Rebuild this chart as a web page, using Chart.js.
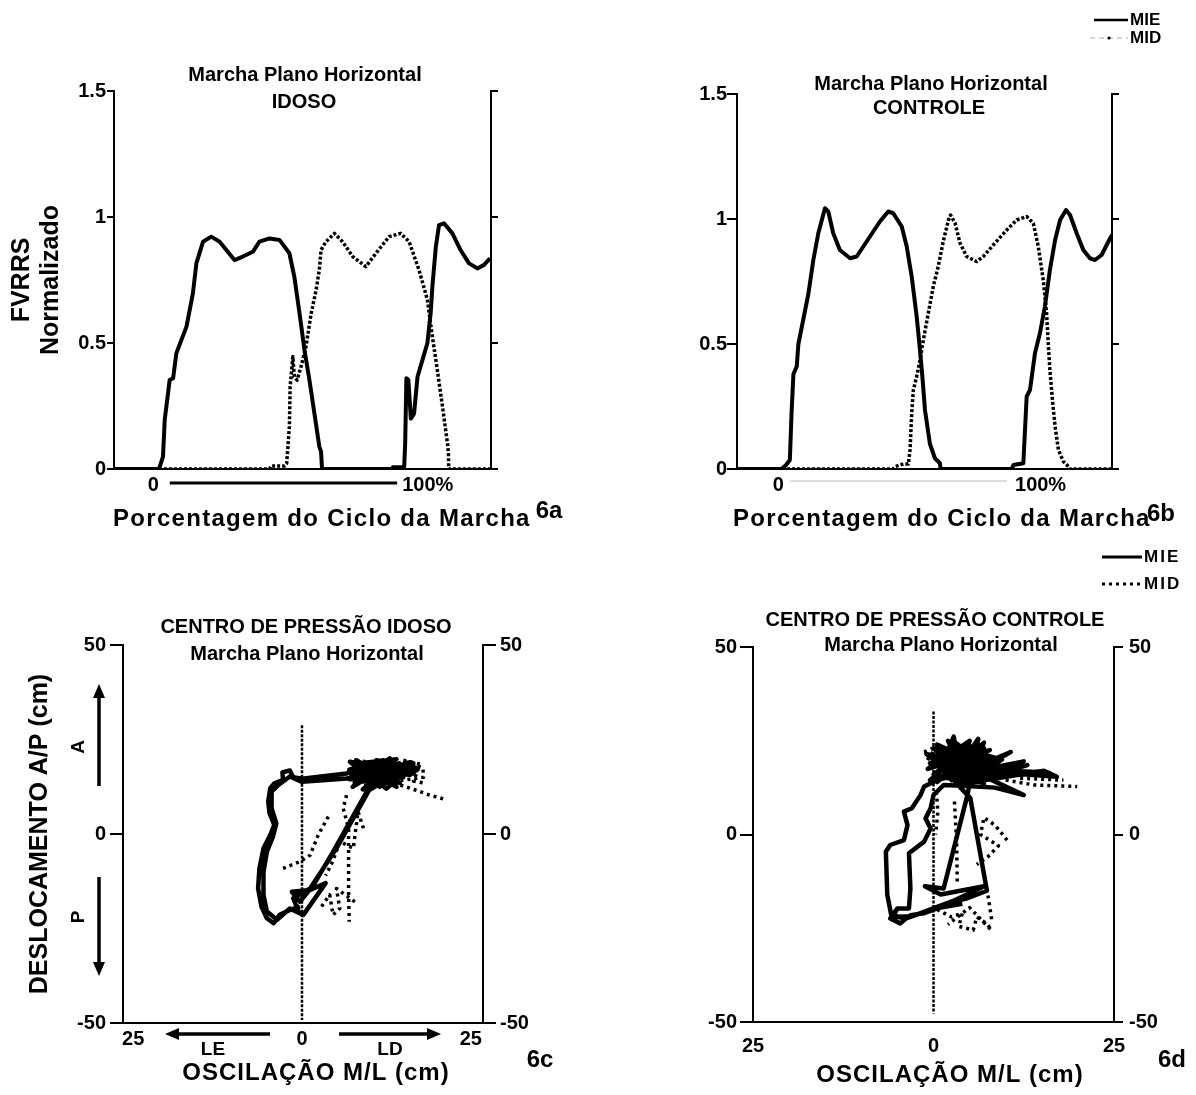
<!DOCTYPE html>
<html><head><meta charset="utf-8">
<script src="https://cdn.jsdelivr.net/npm/chart.js@4.4.0/dist/chart.umd.min.js"></script>
<style>
html,body{margin:0;padding:0;background:#fff;}
#wrap{position:relative;width:1196px;height:1095px;overflow:hidden;background:#fff;}
canvas{position:absolute;}
</style></head><body>
<div id="wrap">
<canvas id="cA" width="598" height="540" style="left:0px;top:0px"></canvas>
<canvas id="cB" width="598" height="540" style="left:598px;top:0px"></canvas>
<canvas id="cC" width="598" height="555" style="left:0px;top:540px"></canvas>
<canvas id="cD" width="598" height="555" style="left:598px;top:540px"></canvas>
</div>
<script>
// ---------- DATA ----------
const seriesNames = ['MIE', 'MID'];
// 6a  FVRRS normalizado x % do ciclo (IDOSO)
const idosoMIE = [[-18.1,0],[0.1,0],[1.7,0.049],[2.4,0.194],[4.4,0.353],[5.8,0.36],[7.1,0.459],[11.2,0.565],[13.8,0.697],[15.2,0.816],[17.9,0.902],[21.2,0.922],[24.6,0.902],[30.6,0.829],[34.0,0.843],[38.0,0.862],[40.7,0.902],[44.8,0.915],[48.8,0.909],[52.8,0.856],[54.8,0.763],[56.9,0.618],[58.9,0.472],[60.9,0.353],[62.9,0.221],[64.9,0.089],[65.6,0.069],[66.0,0],[94.5,0],[94.6,0.007],[99.2,0.007],[99.6,0.10],[100.1,0.36],[100.9,0.353],[101.9,0.20],[103.2,0.22],[104.6,0.366],[106.6,0.433],[108.6,0.50],[109.9,0.618],[110.6,0.724],[112.0,0.882],[113.3,0.968],[115.3,0.975],[118.7,0.935],[122.0,0.869],[125.4,0.816],[128.8,0.796],[131.5,0.81],[133.9,0.836]];
const idosoMID = [[-18.1,0],[44.8,0],[45.4,0.012],[50.8,0.012],[51.7,0.022],[52.8,0.168],[53.1,0.327],[54.2,0.446],[54.8,0.366],[55.9,0.353],[57.5,0.406],[59.5,0.485],[61.6,0.618],[63.6,0.71],[64.9,0.79],[65.6,0.869],[67.6,0.902],[71.0,0.935],[74.3,0.902],[78.4,0.843],[83.7,0.803],[87.8,0.856],[93.1,0.922],[97.8,0.935],[101.2,0.902],[105.2,0.79],[108.6,0.671],[110.6,0.525],[112.6,0.393],[114.7,0.247],[116.7,0.102],[117.1,0.062],[117.2,0],[134.3,0]];
// 6b  (CONTROLE)
const controleMIE = [[-21.5,0],[-2.7,0],[-0.8,0.016],[0.8,0.036],[1.5,0.22],[2.3,0.38],[3.7,0.41],[4.4,0.50],[6.5,0.60],[8.6,0.70],[10.7,0.836],[12.8,0.943],[15.6,1.043],[17.0,1.03],[19.1,0.943],[21.9,0.876],[26.2,0.843],[29.0,0.85],[33.2,0.91],[38.8,0.99],[42.3,1.03],[44.4,1.023],[48.0,0.97],[50.1,0.89],[52.2,0.77],[54.3,0.61],[55.7,0.476],[56.7,0.37],[57.8,0.236],[59.9,0.10],[62.0,0.043],[64.1,0.023],[64.4,0],[94.4,0],[95.1,0.016],[99.3,0.023],[100.7,0.29],[102.1,0.316],[104.2,0.463],[106.3,0.543],[108.4,0.65],[110.5,0.796],[112.7,0.916],[114.8,0.996],[117.3,1.036],[119.0,1.016],[121.8,0.943],[124.6,0.876],[127.4,0.843],[129.5,0.836],[132.3,0.856],[135.2,0.91],[136.7,0.936]];
const controleMID = [[-21.5,0],[44.4,0],[45.2,0.01],[48.7,0.02],[50.8,0.02],[51.5,0.076],[52.2,0.22],[52.9,0.316],[54.3,0.37],[55.7,0.436],[57.1,0.516],[59.2,0.623],[61.3,0.73],[63.4,0.81],[65.5,0.91],[67.7,0.996],[68.6,1.016],[70.5,0.983],[72.6,0.903],[75.4,0.85],[79.6,0.83],[82.4,0.85],[86.6,0.896],[92.3,0.956],[96.5,0.996],[100.7,1.01],[103.5,0.983],[105.6,0.89],[107.7,0.756],[109.1,0.623],[109.8,0.503],[110.5,0.396],[111.7,0.263],[112.7,0.17],[114.1,0.076],[116.2,0.03],[118.3,0.01],[118.7,0],[136.7,0]];
// 6c  centro de pressão (M/L cm, A/P cm) IDOSO
const copIdosoMIE = [[-0.3,-19.2],[-1.8,-20.1],[-3.3,-21.4],[-4.2,-23.6],[-5.2,-22.3],[-6.0,-19.2],[-6.5,-14.4],[-6.3,-9.1],[-5.7,-3.8],[-4.7,-0.3],[-4.1,2.4],[-4.8,5.5],[-5.0,8.6],[-4.7,12.1],[-4.1,13.4],[-2.8,14.3],[-2.9,16.3],[-1.8,16.8],[-1.3,15.0],[0.0,14.6],[6.6,16.0],[8.1,17.4],[12.0,17.8],[16.5,18.7],[10.6,13.8],[7.1,19.1],[14.5,16.5],[9.6,11.2],[4.6,-4.7],[1.7,-13.5],[-0.3,-17.9],[-1.5,-15.3],[1.2,-14.8],[3.5,-13.0],[0.2,-21.4],[-1.8,-19.7],[-3.7,-22.7],[-5.2,-20.5],[-5.7,-16.1],[-5.7,-10.0],[-5.2,-4.7],[-4.3,-0.7],[-3.8,2.8],[-4.5,6.8],[-4.5,11.2],[-3.5,13.0],[-1.8,15.2],[0.0,13.8],[6.6,14.7],[9.6,15.6],[13.5,17.4],[16.0,15.6],[8.6,18.3],[12.5,15.2],[17.0,16.9],[10.1,12.1],[11.0,19.5],[15.5,18.0],[8.0,14.0],[13.0,13.5],[7.0,17.0],[12.0,19.5],[8.0,15.0],[15.5,18.5],[9.5,13.0],[14.0,19.8],[7.5,18.5],[13.0,14.0],[10.0,19.0],[16.5,16.0],[8.5,16.5],[11.5,12.5],[12.5,18.0],[7.0,14.5],[15.0,15.0],[9.0,18.0],[13.5,16.5],[10.5,14.5],[16.0,19.0],[11.0,16.0],[8.0,19.5],[14.5,13.5],[9.5,17.0],[12.0,15.5],[17.0,17.5],[10.0,16.0],[7.5,12.5],[13.5,19.0],[9.0,11.8],[15.8,17.0],[7.2,16.0],[11.0,18.5],[14.0,12.5],[8.0,17.8],[12.5,12.0],[16.5,18.0],[9.8,14.0],[13.0,20.0],[7.8,13.5],[15.0,16.5],[10.1,12.1],[5.1,-3.8],[1.2,-14.4],[-1.3,-17.0],[-0.5,-20.5]];
const copIdosoMID = [[6.6,10.3],[6.1,6.8],[6.9,1.5],[6.9,-7.3],[6.9,-16.1],[7.0,-23.2],[0,null],[3.9,4.6],[2.4,-0.3],[1.2,-5.6],[-0.3,-7.3],[-2.8,-9.1],[0,null],[2.9,-19.2],[4.1,-16.1],[4.6,-21.4],[5.6,-19.7],[5.1,-14.4],[8.1,-18.3],[0,null],[9.1,1.5],[8.3,5.9],[7.6,-3.8],[5.6,-2.0],[4.6,-7.0],[3.5,-11.0],[0,null],[9.6,15.6],[14.5,13.0],[17.5,11.2],[18.9,10.3],[20.9,9.3],[0,null],[8.0,19.5],[12.0,18.5],[16.0,19.0],[17.9,17.4],[18.0,15.0],[14.0,14.0],[10.0,12.5],[0,null],[15.0,19.5],[17.5,18.5],[16.5,14.0],[18.0,13.5]];
const copIdosoEixo = [[0,28.8],[0,-49.2]];
// 6d  CONTROLE
const copControleMIE = [[-5.0,-19.7],[-6.0,-22.4],[-4.6,-23.7],[-3.2,-21.5],[-1.3,-21.0],[0.5,-19.7],[2.8,-17.9],[4.7,-17.0],[7.4,-15.0],[5.1,9.7],[3.0,14.0],[6.0,20.0],[1.0,18.0],[2.8,26.1],[3.5,19.0],[7.0,24.5],[5.0,16.0],[0.0,21.0],[4.0,22.5],[8.0,18.5],[2.0,15.0],[10.7,22.0],[6.0,17.0],[12.5,19.5],[4.0,13.5],[15.3,17.0],[17.1,15.4],[9.0,16.5],[1.5,19.5],[4.8,21.0],[0.0,16.0],[5.0,23.5],[1.5,20.0],[7.5,21.0],[2.5,14.5],[6.0,24.0],[-0.5,19.0],[4.5,17.0],[3.0,24.5],[8.0,17.5],[1.0,22.5],[5.5,14.5],[2.0,18.0],[7.0,23.0],[0.5,14.0],[4.0,20.5],[6.5,16.0],[2.5,23.0],[5.0,18.5],[-1.0,21.5],[3.5,15.0],[7.5,19.5],[1.5,16.5],[6.0,21.5],[3.0,19.5],[9.5,20.0],[4.5,13.5],[13.0,18.5],[6.0,15.0],[16.0,16.5],[11.0,17.0],[5.0,20.0],[0.5,24.0],[6.5,14.0],[1.0,15.5],[7.8,22.5],[-0.8,17.5],[5.0,25.0],[3.5,13.5],[8.0,15.5],[0.0,23.0],[4.5,15.5],[2.0,25.0],[6.8,18.0],[-0.5,14.5],[3.8,21.5],[7.0,13.5],[1.8,21.0],[5.8,17.5],[2.8,16.0],[6.2,25.5],[4.7,10.5],[1.4,-14.4],[-1.2,-13.8],[1.0,-16.0],[7.0,-13.8],[3.0,-17.5],[-0.5,-20.0],[-3.0,-21.8],[-5.8,-22.0],[-6.4,-16.1],[-6.6,-4.6],[-6.0,-2.8],[-4.1,-1.5],[-3.6,2.5],[-4.1,6.1],[-3.0,7.0],[-1.8,10.5],[-1.3,12.8],[0.5,14.5],[3.3,15.9],[6.0,19.0],[2.0,23.0],[5.5,22.0],[8.5,20.5],[3.0,17.5],[11.0,18.0],[7.0,15.5],[12.5,10.5],[8.5,12.5],[4.0,13.0],[1.4,13.2],[0.0,10.5],[-0.4,7.0],[-1.1,4.3],[-0.4,1.6],[-1.3,-1.9],[-3.4,-5.0],[-3.2,-14.4],[-3.4,-19.7],[-5.0,-19.7],[-5.5,-21.5],[-4.0,-22.5],[-1.0,-20.5],[1.0,-19.5],[4.0,-18.5]];
const copControleMID = [[0.4,11.4],[0.6,6.0],[0.3,0.0],[0,null],[2.9,8.8],[3.2,-2.0],[3.3,-13.5],[0,null],[10.2,-1.5],[8.5,2.5],[7.0,4.5],[6.5,0.0],[9.0,-3.0],[7.5,-6.0],[6.0,-8.0],[0,null],[0.5,-20.0],[2.5,-22.0],[4.0,-21.0],[3.5,-24.5],[5.5,-25.5],[6.0,-22.0],[7.5,-24.0],[8.0,-25.5],[5.0,-19.5],[2.0,-24.0],[0,null],[7.4,-14.4],[8.1,-23.2],[0,null],[10.0,14.5],[14.0,13.2],[19.9,12.8],[0,null],[12.0,15.0],[18.0,14.5],[0,null],[-1.3,22.0],[0.5,23.5],[-1.0,19.5],[1.5,18.0]];
const copControleEixo = [[0,32.8],[0,-47.7]];
// ticks / labels
const fvTickValues = [0, 0.5, 1, 1.5];
const fvTickLabels = ['0', '0.5', '1', '1.5'];
const cycleLabels = ['0', '100%'];
const apTickValues = [-50, 0, 50];
const apTickLabels = ['-50', '0', '50'];
const mlTickValues = [-25, 0, 25];
const mlTickLabels = ['25', '0', '25'];
const titlesA = ['Marcha Plano Horizontal', 'IDOSO'];
const titlesB = ['Marcha Plano Horizontal', 'CONTROLE'];
const titlesC = ['CENTRO DE PRESSÃO IDOSO', 'Marcha Plano Horizontal'];
const titlesD = ['CENTRO DE PRESSÃO CONTROLE', 'Marcha Plano Horizontal'];
const xTitleGait = 'Porcentagem do Ciclo da Marcha';
const yTitleGait = ['FVRRS', 'Normalizado'];
const xTitleCop = 'OSCILAÇÃO M/L (cm)';
const yTitleCop = 'DESLOCAMENTO A/P (cm)';
const dirLabels = ['LE', 'LD', 'A', 'P'];
const panelLabels = ['6a', '6b', '6c', '6d'];

// ---------- DRAWING ----------
const FAM = "'Liberation Sans', Arial, Helvetica, sans-serif";
const F = s => `bold ${s}px ${FAM}`;
Chart.defaults.font.family = FAM;
Chart.defaults.color = '#000';
const pts = a => a.map(([x, y]) => ({x, y}));

const decor = {
  id: 'decor',
  afterDraw(chart, args, o) {
    const ctx = chart.ctx, ca = chart.chartArea;
    ctx.save();
    ctx.fillStyle = '#000'; ctx.strokeStyle = '#000';
    (o.texts || []).forEach(t => {
      ctx.save();
      ctx.font = t.font; ctx.textAlign = t.align || 'center'; ctx.textBaseline = 'middle';
      if (t.spacing) ctx.letterSpacing = t.spacing + 'px';
      ctx.translate(ca.left + t.dx, ca.top + t.dy);
      if (t.rot) ctx.rotate(t.rot);
      ctx.fillText(t.text, 0, 0);
      ctx.restore();
    });
    (o.arrows || []).forEach(a => {
      const x1 = ca.left + a.x1, y1 = ca.top + a.y1, x2 = ca.left + a.x2, y2 = ca.top + a.y2;
      const ang = Math.atan2(y2 - y1, x2 - x1), hl = 14, hw = 6;
      const bx = x2 - hl * Math.cos(ang), by = y2 - hl * Math.sin(ang);
      ctx.lineWidth = 3.5;
      ctx.beginPath(); ctx.moveTo(x1, y1); ctx.lineTo(bx, by); ctx.stroke();
      ctx.beginPath(); ctx.moveTo(x2, y2);
      ctx.lineTo(bx + hw * Math.sin(ang), by - hw * Math.cos(ang));
      ctx.lineTo(bx - hw * Math.sin(ang), by + hw * Math.cos(ang));
      ctx.closePath(); ctx.fill();
    });
    if (o.cycle) {
      const c = o.cycle, xs = chart.scales.x;
      const p0 = xs.getPixelForValue(c.from), p1 = xs.getPixelForValue(c.to);
      ctx.font = c.font; ctx.textBaseline = 'middle';
      ctx.textAlign = 'right'; ctx.fillText(c.labels[0], p0 + c.dx0, ca.bottom + c.dy);
      ctx.textAlign = 'left'; ctx.fillText(c.labels[1], p1 + c.dx1, ca.bottom + c.dy);
      ctx.strokeStyle = c.color; ctx.lineWidth = c.width;
      ctx.beginPath(); ctx.moveTo(p0 + c.bar0, ca.bottom + c.barDy); ctx.lineTo(p1 + c.bar1, ca.bottom + c.barDy); ctx.stroke();
      ctx.strokeStyle = '#000';
    }
    (o.legend || []).forEach(l => {
      const x = ca.left + l.dx, y = ca.top + l.dy;
      ctx.save();
      ctx.strokeStyle = l.color; ctx.lineWidth = l.width; ctx.setLineDash(l.dash || []);
      ctx.beginPath(); ctx.moveTo(x, y); ctx.lineTo(x + l.len, y); ctx.stroke();
      ctx.setLineDash([]);
      if (l.dot) { ctx.fillStyle = '#000'; ctx.beginPath(); ctx.arc(x + l.len / 2, y, 1.6, 0, Math.PI * 2); ctx.fill(); }
      ctx.fillStyle = '#000'; ctx.font = l.font; ctx.textAlign = 'left'; ctx.textBaseline = 'middle';
      if (l.spacing) ctx.letterSpacing = l.spacing + 'px';
      ctx.fillText(l.text, x + l.len + 2, y);
      ctx.restore();
    });
    ctx.restore();
  }
};

function yAxis(o, side) {
  const left = side === 'left';
  return {
    type: 'linear', position: side, min: o.yMin, max: o.yMax,
    afterBuildTicks: s => { s.ticks = o.yTicks.map(v => ({value: v})); },
    afterFit: s => { s.width = left ? o.wl : o.wr; },
    grid: {display: true, drawOnChartArea: false, drawTicks: true, tickLength: left ? o.tlL : o.tlR, color: '#000', lineWidth: 2},
    border: {display: true, color: '#000', width: 2},
    ticks: {display: left ? true : !!o.rightLabels, padding: left ? o.padL : o.padR, color: '#000',
      font: {size: o.tickSize, weight: 'bold'}, callback: (v, i) => o.yLabels[i]},
    title: (left && o.yTitle) ? {display: true, text: o.yTitle, color: '#000', padding: 0,
      font: {size: 25, weight: 'bold', lineHeight: o.yTitleLH}} : {display: false}
  };
}

function build(id, o) {
  const scales = {
    x: {
      type: 'linear', position: 'bottom', min: o.xMin, max: o.xMax,
      afterBuildTicks: s => { if (o.xTicks) s.ticks = o.xTicks.map(v => ({value: v})); },
      afterFit: s => { s.height = o.hb; },
      grid: {display: false, drawTicks: false},
      border: {display: true, color: '#000', width: 2},
      ticks: {display: !!o.xTicks, autoSkip: false, maxRotation: 0, padding: o.xPad || 0, color: '#000',
        font: {size: 20, weight: 'bold'}, callback: (v, i) => o.xLabels ? o.xLabels[i] : ''}
    },
    y: yAxis(o, 'left'),
    y2: yAxis(o, 'right')
  };
  return new Chart(document.getElementById(id), {
    type: 'scatter',
    data: {datasets: o.datasets},
    options: {
      responsive: false, animation: false, devicePixelRatio: 1,
      layout: {padding: o.pad},
      scales,
      elements: {point: {radius: 0, hoverRadius: 0}, line: {borderJoinStyle: 'round'}},
      plugins: {legend: {display: false}, tooltip: {enabled: false}, decor: o.decor}
    },
    plugins: [decor]
  });
}

const mie = (d, w) => ({label: seriesNames[0], data: pts(d), showLine: true, borderColor: '#000', borderWidth: w, pointRadius: 0, yAxisID: 'y'});
const mid = (d, w, dash) => ({label: seriesNames[1], data: pts(d), showLine: true, borderColor: '#000', borderWidth: w, borderDash: dash, pointRadius: 0, yAxisID: 'y', spanGaps: false});

// 6a
build('cA', {
  xMin: -18.1, xMax: 134.3, yMin: 0, yMax: 1.5, yTicks: fvTickValues, yLabels: fvTickLabels,
  wl: 106, wr: 10, hb: 20, tlL: 7, tlR: 7, padL: 1, tickSize: 20,
  yTitle: yTitleGait, yTitleLH: 1.14,
  pad: {left: 8, right: 97, top: 91, bottom: 51},
  datasets: [mie(idosoMIE, 4), mid(idosoMID, 3.5, [3, 2])],
  decor: {
    texts: [
      {text: titlesA[0], font: F(20), dx: 191, dy: -16},
      {text: titlesA[1], font: F(20), dx: 190, dy: 11},
      {text: xTitleGait, font: F(24), spacing: 1.3, dx: -1, dy: 428, align: 'left'},
      {text: panelLabels[0], font: F(24), dx: 435, dy: 420}
    ],
    cycle: {from: 0, to: 100, labels: cycleLabels, font: F(20), dx0: 0, dx1: -4, dy: 16, bar0: 11, bar1: -9, barDy: 14, width: 3, color: '#000'}
  }
});
// 6b
build('cB', {
  xMin: -21.5, xMax: 136.7, yMin: 0, yMax: 1.5, yTicks: fvTickValues, yLabels: fvTickLabels,
  wl: 60, wr: 10, hb: 20, tlL: 10, tlR: 7, padL: 0, tickSize: 20,
  pad: {left: 79, right: 74, top: 94, bottom: 51},
  datasets: [mie(controleMIE, 4), mid(controleMID, 3.5, [3, 2])],
  decor: {
    texts: [
      {text: titlesB[0], font: F(20), dx: 194, dy: -10},
      {text: titlesB[1], font: F(20), dx: 192, dy: 14},
      {text: xTitleGait, font: F(24), spacing: 1.3, dx: -4, dy: 425, align: 'left'},
      {text: panelLabels[1], font: F(24), dx: 424, dy: 420}
    ],
    cycle: {from: 0, to: 100, labels: cycleLabels, font: F(20), dx0: -4, dx1: -10, dy: 16, bar0: 2, bar1: -18, barDy: 12, width: 1, color: '#bbb'},
    legend: [
      {text: seriesNames[0], dx: 357, dy: -74, len: 34, color: '#000', width: 2.5, font: F(17)},
      {text: seriesNames[1], dx: 353, dy: -56, len: 38, color: '#aaa', width: 1, dash: [5, 4], dot: true, font: F(17)}
    ]
  }
});
// 6c
build('cC', {
  xMin: -26.5, xMax: 26.8, yMin: -50, yMax: 50, yTicks: apTickValues, yLabels: apTickLabels,
  xTicks: mlTickValues, xLabels: mlTickLabels, xPad: 4,
  wl: 98, wr: 60, hb: 45, tlL: 13, tlR: 13, padL: 4, padR: 4, tickSize: 20, rightLabels: true,
  yTitle: yTitleCop, yTitleLH: 1.2,
  pad: {left: 25, right: 55, top: 105, bottom: 27},
  datasets: [mie(copIdosoMIE, 4.5), mid(copIdosoMID, 3.5, [3, 4]), mid(copIdosoEixo, 2.5, [3, 1.5])],
  decor: {
    texts: [
      {text: titlesC[0], font: F(20), dx: 183, dy: -18},
      {text: titlesC[1], font: F(20), dx: 184, dy: 9},
      {text: xTitleCop, font: F(24), spacing: 1, dx: 193, dy: 428},
      {text: panelLabels[2], font: F(24), dx: 417, dy: 415},
      {text: dirLabels[0], font: F(19), dx: 90, dy: 405},
      {text: dirLabels[1], font: F(19), dx: 267, dy: 405},
      {text: dirLabels[2], font: F(19), dx: -44, dy: 102, rot: -Math.PI / 2},
      {text: dirLabels[3], font: F(19), dx: -44, dy: 272, rot: -Math.PI / 2}
    ],
    arrows: [
      {x1: 147, y1: 389, x2: 42, y2: 389},
      {x1: 216, y1: 389, x2: 318, y2: 389},
      {x1: -24, y1: 141, x2: -24, y2: 39},
      {x1: -24, y1: 232, x2: -24, y2: 331}
    ]
  }
});
// 6d
build('cD', {
  xMin: -25, xMax: 25, yMin: -50, yMax: 50, yTicks: apTickValues, yLabels: apTickLabels,
  xTicks: mlTickValues, xLabels: mlTickLabels, xPad: 12,
  wl: 60, wr: 60, hb: 45, tlL: 13, tlR: 9, padL: 3, padR: 6, tickSize: 20, rightLabels: true,
  pad: {left: 95, right: 22, top: 107, bottom: 28},
  datasets: [mie(copControleMIE, 4.5), mid(copControleMID, 3.5, [3, 4]), mid(copControleEixo, 2.5, [3, 1.5])],
  decor: {
    texts: [
      {text: titlesD[0], font: F(20), dx: 182, dy: -27},
      {text: titlesD[1], font: F(20), dx: 188, dy: -2},
      {text: xTitleCop, font: F(24), spacing: 1, dx: 197, dy: 428},
      {text: panelLabels[3], font: F(24), dx: 419, dy: 413}
    ],
    legend: [
      {text: seriesNames[0], dx: 349, dy: -90, len: 40, color: '#000', width: 3, font: F(17), spacing: 2},
      {text: seriesNames[1], dx: 349, dy: -63, len: 40, color: '#000', width: 3, dash: [3, 4], font: F(17), spacing: 2}
    ]
  }
});
</script>
</body></html>
